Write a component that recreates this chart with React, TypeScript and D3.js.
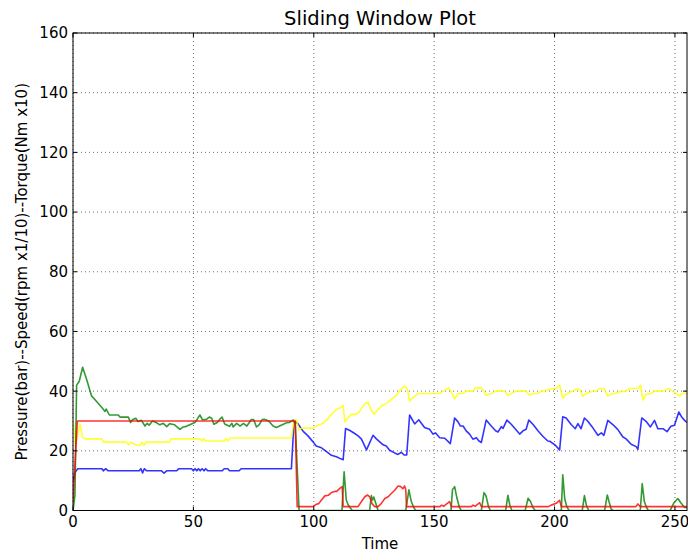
import React from "react";
import * as d3 from "d3";

const xTicks = [0, 50, 100, 150, 200, 250];
const yTicks = [0, 20, 40, 60, 80, 100, 120, 140, 160];

const bluePts: [number, number][] = [[0,10],[1,13],[2,14],[12,14],[12.6,13.3],[13.6,14],[14.6,13.3],[27.5,13.3],[28.2,14],[28.9,12.6],[29.6,14],[30.6,13.3],[36.8,13.3],[37.8,12.5],[38.9,13.3],[43,13.3],[44,14],[49.2,14],[50,13.3],[50.7,14],[51.4,13.3],[52.1,14],[52.8,13.3],[53.6,14],[54.4,13.3],[55.1,14],[56,13.3],[62,13.3],[62.8,14],[64.3,14],[65,13.3],[69,13.3],[69.8,14],[90.7,14],[91.8,30],[93.5,29],[95.6,26.5],[97.6,25],[99.7,23],[101,21.6],[103.2,21],[105.3,19.7],[107.3,18.5],[109.4,18],[111.2,17.3],[112.2,17],[113.2,27.5],[115,26.8],[117,25.8],[118.4,25],[119.8,23.9],[121.9,20.3],[124.6,25.2],[126,24],[127.4,23],[128.8,22],[130.1,21.6],[131.5,20.2],[133.6,19.3],[135,18.8],[136.4,19.5],[137.5,18.6],[138.6,18.6],[139.8,32],[141.9,29],[143.6,30.4],[146,27.8],[148.1,27.2],[149.5,25.6],[150.6,26],[152.3,24.4],[154.4,24.2],[156.7,22.4],[158.5,31],[159.9,29.7],[160.9,28.3],[162,28.3],[163.3,26.7],[164.7,25.6],[166.1,23.9],[167.5,24.4],[168.6,23.3],[169.6,22.8],[171.6,30.3],[173.7,28.3],[175.5,26.7],[176.5,26.3],[177.9,28.1],[178.6,27.5],[180.2,30.3],[182,28.9],[183.8,27.2],[185.5,25.6],[186.9,26.7],[188.2,27.2],[189.3,30.3],[191,28.9],[193.1,26.7],[195.2,24.8],[197.2,23.3],[198,23.2],[200,22.1],[202.1,20.3],[203.4,31.4],[204.8,31],[206.9,28.8],[208.6,27.4],[209.7,29.1],[211,27.4],[212.4,31],[213.8,29.9],[215.9,27.7],[218,25.2],[219.4,26],[220.5,25.2],[222.1,30.2],[224.2,28.8],[226.3,27.1],[228.3,24.7],[229.7,24],[231.8,22.2],[233.9,21.4],[234.6,20.5],[236.2,31],[238,29.9],[239.8,28],[241.5,30.2],[242.9,27.4],[245,27.4],[246.7,26.4],[248.3,28.2],[249.8,28.6],[251.6,33],[252.8,31.3],[254,30.2],[255,29.5]];

const yellowPts: [number, number][] = [[0,30],[1,22],[2.9,29],[4,24.5],[5,24],[12,24],[12.6,22.9],[22.3,22.9],[23,22],[24,22.9],[25.8,22.1],[27.1,21.8],[28,22],[28.6,22.9],[29.4,21.8],[30.3,22.9],[40,22.9],[40.6,24],[52.8,24],[53.6,23.3],[54.3,24],[55.2,23.3],[62.8,23.3],[63.6,24.1],[64.3,23.3],[65.4,24.3],[90.7,24.3],[91.8,30.3],[92.8,30.3],[93.8,27],[95,27.6],[99.7,27.6],[101.8,28.6],[103.9,29.2],[105.9,30.8],[108,32.8],[109.8,34.1],[110.8,34.3],[112.2,35.2],[112.9,29.7],[114.3,31.1],[115.6,32.2],[117.7,32.2],[119.1,33.3],[121.2,35.8],[122.5,36.3],[123.7,33.9],[125,32.2],[126.7,33.9],[128.4,35.2],[130.2,35.9],[132.2,37.2],[134.3,38.6],[136.1,40.6],[137.8,41.7],[138.9,40.6],[139.8,36.7],[141.2,37.8],[143.3,39.2],[152.3,39.2],[153.6,40],[156.1,41.1],[157,40],[158.5,37.4],[159.9,39.2],[162,39.2],[163.1,40],[166.1,40],[167.2,41.1],[169.6,41.1],[170.6,40],[171.6,38.6],[173.7,39.2],[175.8,40],[179.3,40],[180.6,38.6],[182,39.2],[184.1,40],[188.2,40],[189.6,38.6],[191,39.2],[193,39.2],[194.5,40],[198.6,40.6],[200.7,40.9],[202.1,42],[203.4,37.6],[204.8,39],[206.9,39.8],[209,40.6],[210.4,40.6],[211.7,38.3],[213.1,39.2],[215.2,39.8],[217.3,40.1],[218.7,40.9],[220.5,40.9],[222.1,38.3],[223.5,39.2],[225.6,39.2],[227,39.8],[229.7,40],[231.1,40.9],[234.6,40.9],[235.7,42],[236.7,37],[238,39],[240.1,39.2],[241.5,40],[245,40],[246.7,40.6],[247.7,40.9],[249,40],[250.5,39.2],[251.9,38.3],[252.8,39.2],[255,39.2]];

const greenPts: [number, number][] = [[0,0],[0.8,5],[1.5,42],[2.6,43.3],[4,48],[5.7,43.8],[7.7,38.4],[9.8,36.5],[11.9,34.6],[13.3,33.2],[13.8,34],[15.1,32],[18.8,32],[19.5,31.3],[23,31.3],[23.9,29.5],[24.7,30.4],[26.1,30.9],[27,29.8],[28.4,30.2],[29.9,28.3],[30.8,29.2],[31.6,28.6],[33,30],[34.5,29.5],[36.1,28.7],[37.5,29.2],[38.9,28.1],[40.2,29.1],[42.2,28.7],[44.4,27.2],[45.8,28],[47.1,28.2],[49.2,29],[50.6,29.5],[51.6,30.6],[52.7,32],[53.8,30.4],[55.5,30.6],[56.6,31.3],[57.6,30.9],[58.5,28.9],[59.9,29.5],[61,30.6],[61.9,31.3],[63,29],[65,28.2],[66,29.2],[66.5,28],[68,29.2],[69.4,28.3],[70.8,29.2],[72.2,28.3],[74.1,30.5],[75,30.5],[76.2,28],[77.3,28.7],[78.6,30.5],[79.5,30.6],[81.3,30],[83.1,28.3],[84.5,27.8],[85.8,28.3],[88.7,29.4],[89.8,29.5],[90.8,30],[91.5,30.3],[92.3,29],[93.9,0],[111.7,0],[112.6,13],[113.5,3.5],[114.2,2],[115,1],[116,0],[123.2,0],[123.9,5],[124.4,3.5],[124.9,4.5],[126.7,0],[138.2,0],[139.5,6.9],[140.5,3],[141.5,1],[142.3,0],[157,0],[157.6,7],[158.5,8],[159.5,4],[160.5,1],[161.3,0],[169.6,0],[170.7,6],[171.5,5],[172.5,1.5],[173.3,0],[179.7,0],[180.6,5.1],[181.5,1.5],[182.3,0],[187.8,0],[189,4.1],[190,3],[191,1],[192,0],[202.8,0],[203.4,12],[204.2,4],[205,1.5],[206,0],[211.5,0],[212.4,5],[213.3,1.5],[214.2,0],[220.8,0],[221.9,5.2],[222.6,3],[223.5,0.5],[224.3,0],[235.6,0],[236.4,9],[237.3,3],[238.2,1],[239,0],[248,0],[249.5,2.5],[251.2,4],[252.5,2.5],[254,1],[255,1]];

const redPts: [number, number][] = [[0,3],[1.8,30],[92.3,30],[93.1,1.3],[99.8,1.3],[100.8,2],[102,2.3],[103.2,3.5],[104.6,4.9],[106,5.1],[107.3,6],[108.7,6.4],[109.5,6.4],[110.8,7.4],[111.8,8],[112.2,1.3],[118.4,1.3],[119.8,3],[121.2,4.6],[122.3,5.2],[123.2,4.6],[124.2,2.3],[125.3,1.3],[126.7,1.3],[128,2.3],[129.5,4],[130.9,4.6],[132.2,5.7],[133.6,6.8],[135,8.2],[136.1,8],[137,7.3],[137.7,8.2],[138.2,7],[138.5,1.3],[152.5,1.3],[153,1.8],[154,1.4],[154.8,2],[156.4,3],[157.1,1.3],[165.5,1.3],[166.1,1.8],[167,1.4],[168.9,2.6],[169.6,1.3],[197.5,1.3],[198.6,1.8],[200.7,2.4],[201.5,3],[202.1,3.4],[202.8,1.3],[233.8,1.3],[234.6,2.2],[235.5,1.3],[255,1.3]];

const series = [
  { pts: bluePts, color: "#0000ff" },
  { pts: yellowPts, color: "#ffff00" },
  { pts: greenPts, color: "#008000" },
  { pts: redPts, color: "#ff0000" },
];

const W = 688, H = 552;
const L = 73, R = 687, T = 33, B = 510.5;
const FONT = "DejaVu Sans, sans-serif";

export default function App() {
  const x = d3.scaleLinear().domain([0, 255]).range([L, R]);
  const y = d3.scaleLinear().domain([0, 160]).range([B, T]);
  const line = d3.line<[number, number]>().x((d) => x(d[0])).y((d) => y(d[1]));
  return (
    <svg width={W} height={H} style={{ position: "absolute", left: 0, top: 0, background: "#fff" }} fontFamily={FONT}>
      <defs>
        <clipPath id="clip"><rect x={L} y={T} width={R - L} height={B - T} /></clipPath>
      </defs>
      <rect x={0} y={0} width={W} height={H} fill="#fff" />
      {xTicks.map((t) => (
        <line key={"gx" + t} x1={x(t)} x2={x(t)} y1={T} y2={B} stroke="#000" strokeWidth={0.8} strokeDasharray="1,3" opacity={0.7} />
      ))}
      {yTicks.map((t) => (
        <line key={"gy" + t} x1={L} x2={R} y1={y(t)} y2={y(t)} stroke="#000" strokeWidth={0.8} strokeDasharray="1,3" opacity={0.7} />
      ))}
      <g clipPath="url(#clip)">
        {series.map((s, i) => (
          <path key={i} d={line(s.pts) || ""} fill="none" stroke={s.color} strokeWidth={1.6} strokeOpacity={0.8} strokeLinejoin="round" />
        ))}
      </g>
      <rect x={L} y={T} width={R - L} height={B - T} fill="none" stroke="#000" strokeWidth={1} />
      {xTicks.map((t) => (
        <g key={"tx" + t}>
          <line x1={x(t)} x2={x(t)} y1={B} y2={B - 4} stroke="#000" />
          <line x1={x(t)} x2={x(t)} y1={T} y2={T + 4} stroke="#000" />
          <text x={x(t)} y={527} textAnchor="middle" fontSize={15} fill="#000">{t}</text>
        </g>
      ))}
      {yTicks.map((t) => (
        <g key={"ty" + t}>
          <line x1={L} x2={L + 4} y1={y(t)} y2={y(t)} stroke="#000" />
          <line x1={R} x2={R - 4} y1={y(t)} y2={y(t)} stroke="#000" />
          <text x={68} y={y(t)} dy="0.36em" textAnchor="end" fontSize={15} fill="#000">{t}</text>
        </g>
      ))}
      <text x={(L + R) / 2} y={25} textAnchor="middle" fontSize={19.5} fill="#000">Sliding Window Plot</text>
      <text x={(L + R) / 2} y={549} textAnchor="middle" fontSize={15} fill="#000">Time</text>
      <text transform={`translate(27,${(T + B) / 2}) rotate(-90)`} textAnchor="middle" fontSize={15} fill="#000">Pressure(bar)--Speed(rpm x1/10)--Torque(Nm x10)</text>
    </svg>
  );
}
